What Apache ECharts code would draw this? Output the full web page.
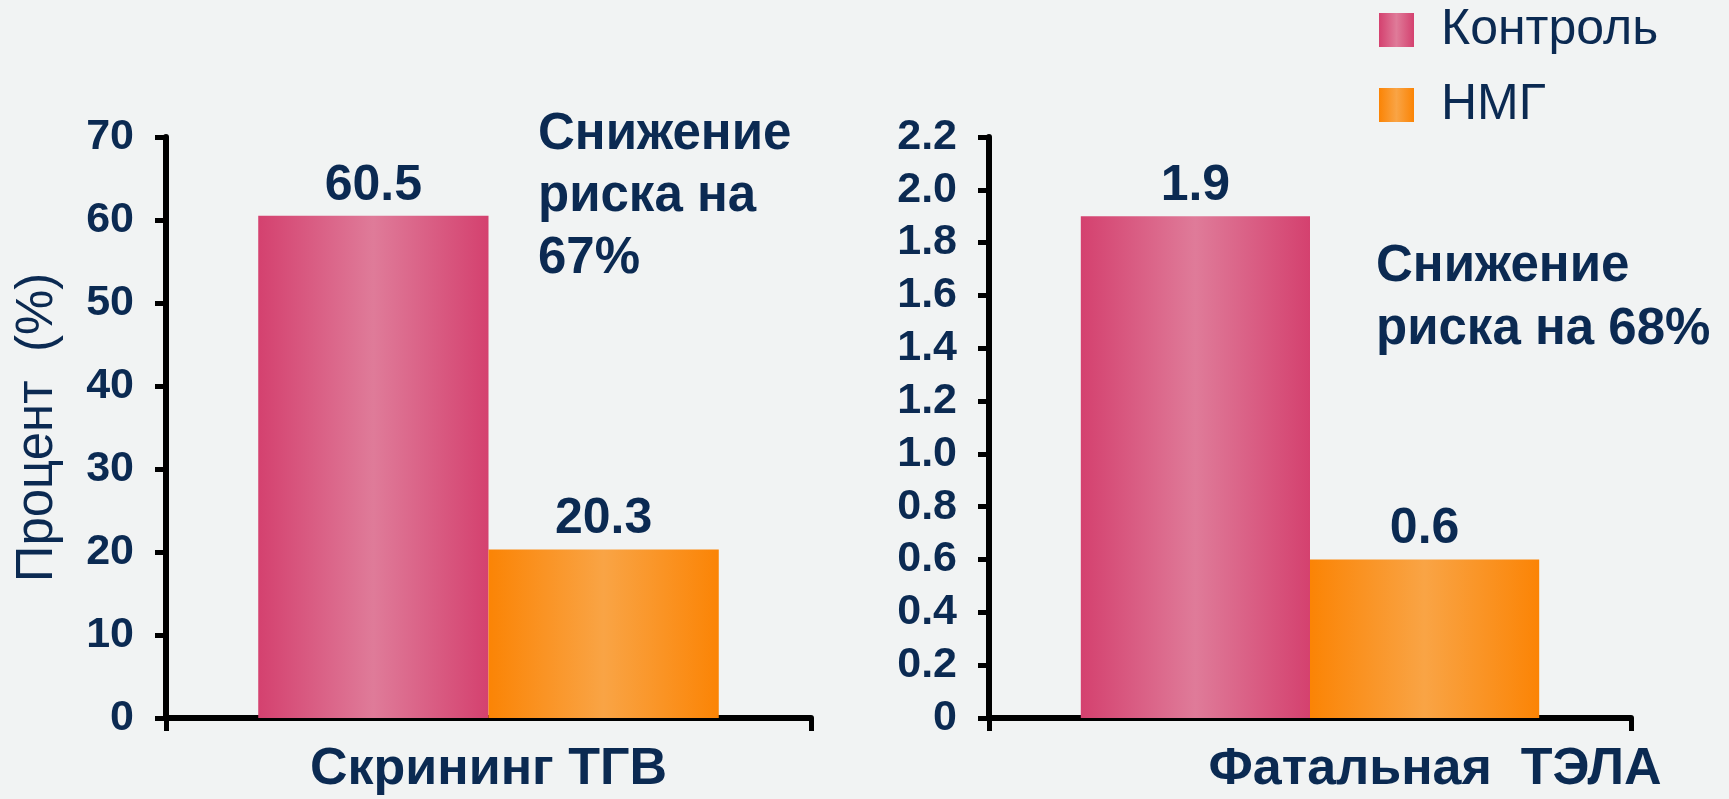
<!DOCTYPE html>
<html>
<head>
<meta charset="utf-8">
<script src="https://cdn.jsdelivr.net/npm/echarts@6/dist/echarts.min.js"></script>
<style>
  html, body { margin: 0; padding: 0; background: #f1f3f3; }
  #chart { width: 1729px; height: 799px; }
</style>
</head>
<body>
<div id="chart"></div>
<script>
const categories = ['Скрининг ТГВ', 'Фатальная  ТЭЛА']
const seriesNames = ['Контроль', 'НМГ']
const controlValues = [60.5, 1.9]
const lmwhValues = [20.3, 0.6]
const yMax = [70, 2.2]
const yStep = [10, 0.2]
const notes = ['Снижение\nриска на\n67%', 'Снижение\nриска на 68%']

const navy = '#0b2a52'
const font = '"Liberation Sans", Arial, sans-serif'

const pinkFill = {
  type: 'linear', x: 0, y: 0, x2: 1, y2: 0,
  colorStops: [
    { offset: 0, color: '#d4416f' },
    { offset: 0.5, color: '#df7b99' },
    { offset: 1, color: '#d4416f' }
  ]
}
const orangeFill = {
  type: 'linear', x: 0, y: 0, x2: 1, y2: 0,
  colorStops: [
    { offset: 0, color: '#fb8405' },
    { offset: 0.5, color: '#f9a445' },
    { offset: 1, color: '#fb8405' }
  ]
}

const chart = echarts.init(document.getElementById('chart'))

const axisLine = { show: true, lineStyle: { color: '#000', width: 6 } }
const axisTick = { show: true, length: 11, lineStyle: { color: '#000', width: 5 } }

function barSeries(name, values, idx, fill) {
  return {
    name: name,
    type: 'bar',
    xAxisIndex: idx,
    yAxisIndex: idx,
    data: [values[idx]],
    barGap: 0,
    barCategoryGap: '28.6%',
    itemStyle: { color: fill },
    label: {
      show: true,
      position: 'top',
      distance: 5,
      color: navy,
      fontFamily: font,
      fontWeight: 'bold',
      fontSize: 50
    }
  }
}

const option = {
  backgroundColor: '#f1f3f3',
  animation: false,
  grid: [
    { left: 166, right: 918, top: 137, bottom: 81 },
    { left: 989, right: 98, top: 137, bottom: 81 }
  ],
  legend: {
    data: seriesNames,
    orient: 'vertical',
    left: 1379,
    top: 2,
    padding: 0,
    icon: 'rect',
    itemWidth: 35,
    itemHeight: 34,
    itemGap: 19,
    textStyle: {
      color: navy,
      fontFamily: font,
      fontSize: 50,
      lineHeight: 56,
      padding: [0, 0, 0, 22]
    }
  },
  xAxis: [0, 1].map(i => ({
    type: 'category',
    gridIndex: i,
    data: [categories[i]],
    axisLine: axisLine,
    axisTick: { show: true, length: 13, lineStyle: { color: '#000', width: 5 } },
    axisLabel: {
      color: navy,
      fontFamily: font,
      fontWeight: 'bold',
      fontSize: 52,
      margin: 26,
      padding: i === 1 ? [0, 0, 0, 250] : 0
    }
  })),
  yAxis: [0, 1].map(i => ({
    type: 'value',
    gridIndex: i,
    min: 0,
    max: yMax[i],
    interval: yStep[i],
    splitLine: { show: false },
    axisLine: axisLine,
    axisTick: axisTick,
    axisLabel: {
      color: navy,
      fontFamily: font,
      fontWeight: 'bold',
      fontSize: 43,
      margin: 32,
      formatter: v => (v === 0 ? '0' : (i === 0 ? String(v) : v.toFixed(1)))
    },
    name: i === 0 ? 'Процент  (%)' : '',
    nameLocation: 'middle',
    nameGap: 103,
    nameTextStyle: {
      color: navy,
      fontFamily: font,
      fontSize: 51
    }
  })),
  graphic: [
    {
      type: 'text', left: 538, top: 104,
      style: { text: notes[0], fill: navy, fontFamily: font, fontWeight: 'bold', fontSize: 51, lineHeight: 62 }
    },
    {
      type: 'text', left: 1376, top: 235,
      style: { text: notes[1], fill: navy, fontFamily: font, fontWeight: 'bold', fontSize: 51, lineHeight: 63 }
    }
  ],
  series: [
    barSeries(seriesNames[0], controlValues, 0, pinkFill),
    barSeries(seriesNames[1], lmwhValues, 0, orangeFill),
    barSeries(seriesNames[0], controlValues, 1, pinkFill),
    barSeries(seriesNames[1], lmwhValues, 1, orangeFill)
  ]
}

chart.setOption(option)
</script>
</body>
</html>
